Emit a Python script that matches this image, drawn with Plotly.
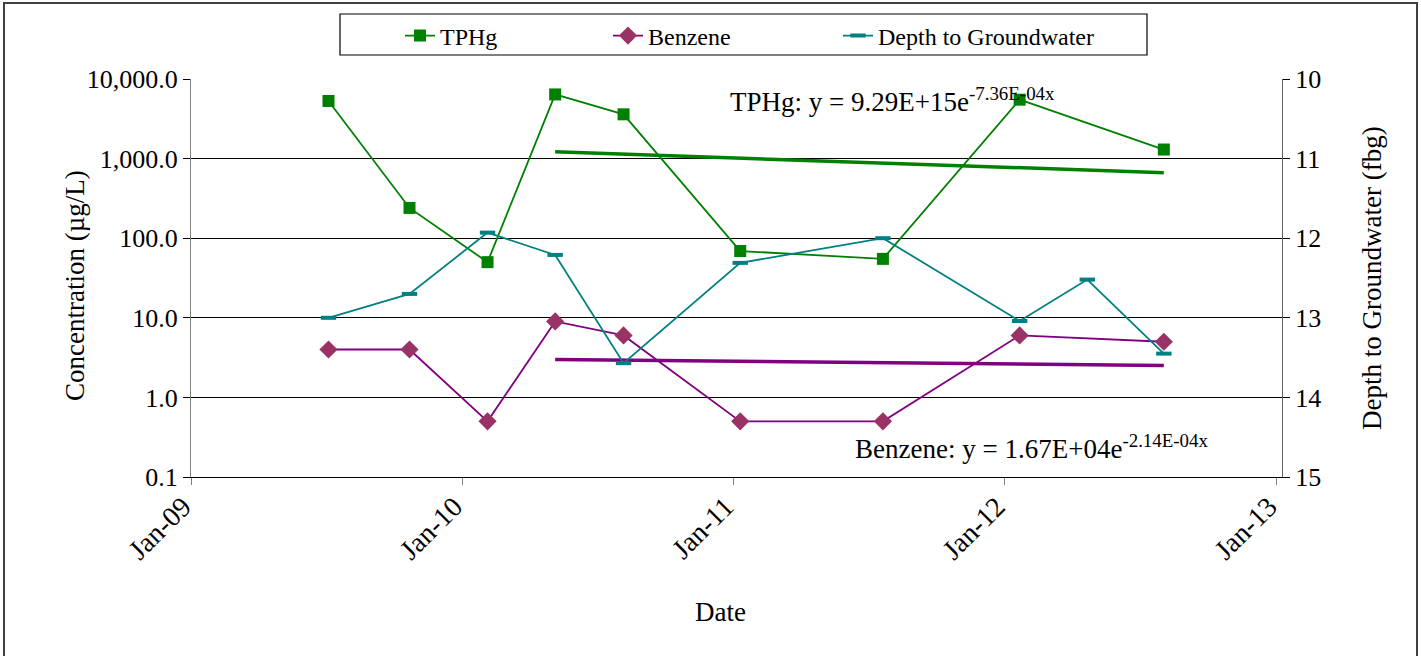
import math
from datetime import date

import plotly.graph_objects as go

# ---------------- data ----------------
sample_dates = ["2009-07-05", "2009-10-22", "2010-02-04", "2010-05-06", "2010-08-06",
                "2011-01-10", "2011-07-21", "2012-01-21", "2012-08-02"]
tphg = [5300, 240, 50, 6400, 3600, 69, 55, 5500, 1300]
benzene = [4.0, 4.0, 0.5, 9.0, 6.0, 0.5, 0.5, 6.0, 5.0]

gw_dates = ["2009-07-05", "2009-10-22", "2010-02-04", "2010-05-06", "2010-08-06",
            "2011-01-10", "2011-07-21", "2012-01-21", "2012-04-21", "2012-08-02"]
depth_gw = [13.00, 12.70, 11.93, 12.21, 13.57, 12.31, 12.00, 13.04, 12.52, 13.45]

# exponential trendlines (Excel, x = date serial)
tphg_a, tphg_b = 9.29e15, -7.36e-4
benz_a, benz_b = 1.67e4, -2.14e-4
trend_dates = sample_dates[3:]

y_tickvals = [0.1, 1, 10, 100, 1000, 10000]
y_ticktext = ["0.1", "1.0", "10.0", "100.0", "1,000.0", "10,000.0"]
x_tickvals = ["2009-01-01", "2010-01-01", "2011-01-01", "2012-01-01", "2013-01-01"]
x_ticktext = ["Jan-09", "Jan-10", "Jan-11", "Jan-12", "Jan-13"]
y2_tickvals = [10, 11, 12, 13, 14, 15]


def serial(d):
    return (date.fromisoformat(d) - date(1899, 12, 30)).days


tphg_trend = [tphg_a * math.exp(tphg_b * serial(d)) for d in trend_dates]
benz_trend = [benz_a * math.exp(benz_b * serial(d)) for d in trend_dates]

# ---------------- layout helpers ----------------
W, H = 1421, 656
L, R, T, B = 191, 1282, 79, 477


def px(x):
    return (x - L) / (R - L)


def py(y):
    return (B - y) / (B - T)


FONT = "Liberation Serif"
GREEN = "#008000"
PURPLE = "#800080"
BENZ_MK = "#993366"
TEAL = "#008080"

fig = go.Figure()

fig.add_trace(go.Scatter(x=trend_dates, y=tphg_trend, mode="lines",
                         line=dict(color=GREEN, width=3.5), showlegend=False, hoverinfo="skip"))
fig.add_trace(go.Scatter(x=trend_dates, y=benz_trend, mode="lines",
                         line=dict(color=PURPLE, width=3.5), showlegend=False, hoverinfo="skip"))

fig.add_trace(go.Scatter(x=sample_dates, y=tphg, name="TPHg", mode="lines+markers",
                         line=dict(color=GREEN, width=1.8),
                         marker=dict(symbol="square", size=12, color=GREEN),
                         legendwidth=163))
fig.add_trace(go.Scatter(x=sample_dates, y=benzene, name="Benzene", mode="lines+markers",
                         line=dict(color=PURPLE, width=1.8),
                         marker=dict(symbol="diamond", size=14, color=BENZ_MK),
                         legendwidth=185))
fig.add_trace(go.Scatter(x=gw_dates, y=depth_gw, name="Depth to Groundwater", mode="lines+markers",
                         yaxis="y2",
                         line=dict(color=TEAL, width=1.8),
                         marker=dict(symbol="line-ew", size=11, color=TEAL,
                                     line=dict(color=TEAL, width=4))))

fig.update_layout(
    width=W, height=H,
    margin=dict(l=L, r=W - R, t=T, b=H - B),
    paper_bgcolor="white", plot_bgcolor="white",
    font=dict(family=FONT, size=26, color="black"),
    showlegend=True,
    legend=dict(orientation="h", x=px(400), xanchor="left", y=py(36), yanchor="middle",
                font=dict(family=FONT, size=24), bgcolor="rgba(0,0,0,0)", borderwidth=0,
                itemclick=False),
    xaxis=dict(type="date", range=["2009-01-01", "2013-01-08"],
               tickvals=x_tickvals, ticktext=x_ticktext, tickangle=-45,
               ticks="outside", ticklen=7, tickcolor="#808080", tickwidth=1,
               ticklabelshift=-8, ticklabelstandoff=-6,
               showgrid=False, showline=True, linecolor="black", linewidth=1,
               zeroline=False, tickfont=dict(size=28)),
    yaxis=dict(type="log", range=[-1, 4], tickvals=y_tickvals, ticktext=y_ticktext,
               ticks="outside", ticklen=7, tickcolor="black", tickwidth=1,
               showgrid=True, gridcolor="black", gridwidth=1,
               showline=True, linecolor="#808080", linewidth=1, zeroline=False,
               tickfont=dict(size=26)),
    yaxis2=dict(overlaying="y", side="right", range=[15, 10], tickvals=y2_tickvals,
                ticks="outside", ticklen=7, tickcolor="black", tickwidth=1,
                showgrid=False, showline=True, linecolor="#606060", linewidth=1,
                zeroline=False, tickfont=dict(size=26)),
)

fig.add_annotation(text="Concentration (µg/L)", textangle=-90, xref="paper", yref="paper",
                   x=px(75), y=py(286), showarrow=False, font=dict(size=27),
                   xanchor="center", yanchor="middle")
fig.add_annotation(text="Depth to Groundwater (fbg)", textangle=-90, xref="paper", yref="paper",
                   x=px(1372), y=py(278), showarrow=False, font=dict(size=27),
                   xanchor="center", yanchor="middle")
fig.add_annotation(text="Date", xref="paper", yref="paper", x=px(720), y=py(612),
                   showarrow=False, font=dict(size=27), xanchor="center", yanchor="middle")

fig.add_annotation(text="TPHg: y = 9.29E+15e<sup>-7.36E-04x</sup>", xref="paper", yref="paper",
                   x=px(728), y=py(100), showarrow=False, font=dict(size=27),
                   xanchor="left", yanchor="middle")
fig.add_annotation(text="Benzene: y = 1.67E+04e<sup>-2.14E-04x</sup>", xref="paper", yref="paper",
                   x=px(853), y=py(447), showarrow=False, font=dict(size=27),
                   xanchor="left", yanchor="middle")

# legend frame and outer chart border
fig.add_shape(type="rect", xref="paper", yref="paper",
              x0=px(340), x1=px(1147), y0=py(55), y1=py(14),
              line=dict(color="black", width=1.2), fillcolor="rgba(0,0,0,0)", layer="above")
fig.add_shape(type="rect", xref="paper", yref="paper",
              x0=px(4), x1=px(1417), y0=py(670), y1=py(3),
              line=dict(color="#404040", width=2), fillcolor="rgba(0,0,0,0)", layer="above")

fig.write_html("out.html", config={"displayModeBar": False},
               post_script="document.body.style.margin='0';document.body.style.overflow='hidden';")
